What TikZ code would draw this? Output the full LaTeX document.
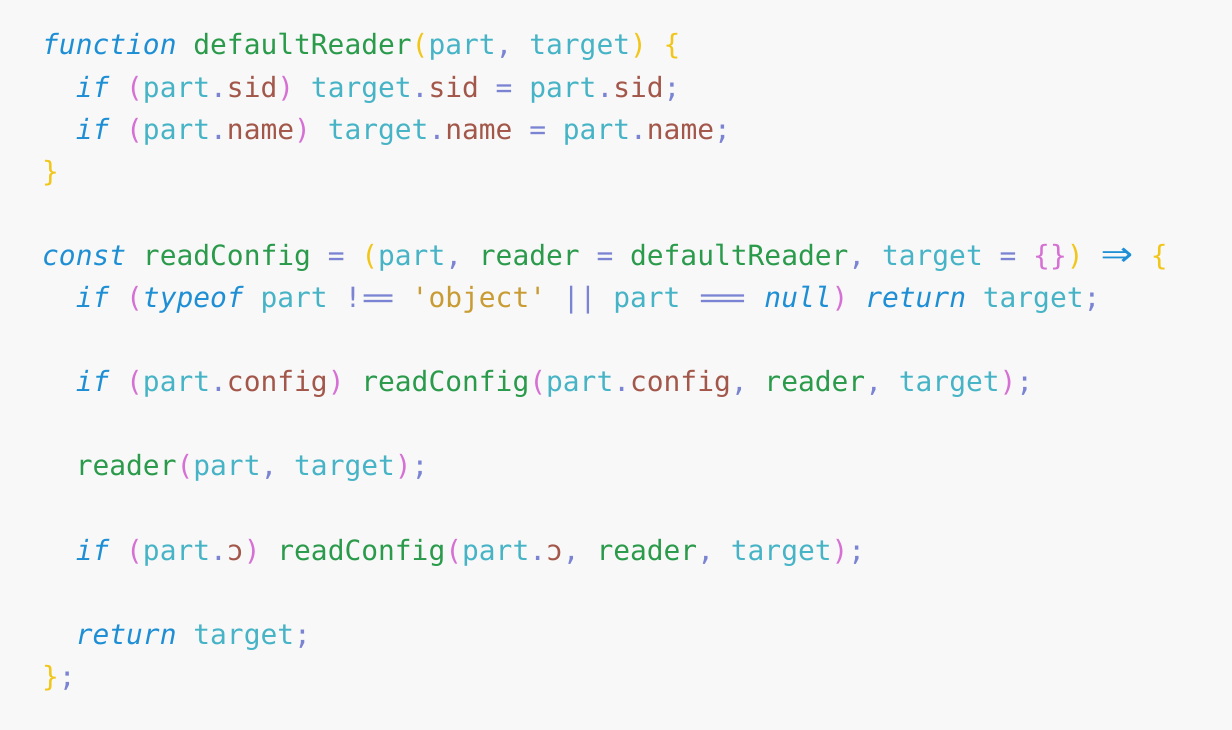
\documentclass[tikz,border=0pt]{standalone}
\usepackage{fontspec}
\usepackage{xcolor}
\usepackage{tikz}
\setmonofont[ItalicFont={DejaVu Sans Mono Oblique}]{DejaVu Sans Mono}
\frenchspacing
\definecolor{bggray}{HTML}{F8F8F8}
\definecolor{kwblue}{HTML}{1E8FD5}
\definecolor{fngreen}{HTML}{2A9A4B}
\definecolor{varteal}{HTML}{46B4C6}
\definecolor{propbrown}{HTML}{A3574A}
\definecolor{punlav}{HTML}{7A84D2}
\definecolor{paryellow}{HTML}{F2C619}
\definecolor{parpink}{HTML}{D670D4}
\definecolor{strochre}{HTML}{C99B33}
\newcommand{\ckw}[1]{\textcolor{kwblue}{\itshape #1}}
\newcommand{\cfn}[1]{\textcolor{fngreen}{#1}}
\newcommand{\cvar}[1]{\textcolor{varteal}{#1}}
\newcommand{\cprop}[1]{\textcolor{propbrown}{#1}}
\newcommand{\cpun}[1]{\textcolor{punlav}{#1}}
\newcommand{\cpa}[1]{\textcolor{paryellow}{#1}}
\newcommand{\cpb}[1]{\textcolor{parpink}{#1}}
\newcommand{\cstr}[1]{\textcolor{strochre}{#1}}
\newcommand{\wideeq}[1]{\scalebox{#1}[1]{=}}
\newcommand{\fatarrow}{\textcolor{kwblue}{\makebox[2\fontcharwd\font`a]{\raisebox{-0.08em}{\scalebox{1.9}[1.6]{⇒}}}}}
\tikzstyle{code} = [anchor=base west, inner sep=0pt, font=\ttfamily\fontsize{27.9bp}{42bp}\selectfont]

\begin{document}
\begin{tikzpicture}[x=1bp, y=1bp]
	\fill[bggray] (0,0) rectangle (1232,730);
	\node (line1) [code] at (42,675) {\ckw{function} \cfn{defaultReader}\cpa{(}\cvar{part}\cpun{,} \cvar{target}\cpa{)} \cpa{\{}};
	\node (line2) [code] at (75.6,632.9) {\ckw{if} \cpb{(}\cvar{part}\cpun{.}\cprop{sid}\cpb{)} \cvar{target}\cpun{.}\cprop{sid} \cpun{=} \cvar{part}\cpun{.}\cprop{sid}\cpun{;}};
	\node (line3) [code] at (75.6,590.8) {\ckw{if} \cpb{(}\cvar{part}\cpun{.}\cprop{name}\cpb{)} \cvar{target}\cpun{.}\cprop{name} \cpun{=} \cvar{part}\cpun{.}\cprop{name}\cpun{;}};
	\node (line4) [code] at (42,548.7) {\cpa{\}}};
	\node (line6) [code] at (42,464.5) {\ckw{const} \cfn{readConfig} \cpun{=} \cpa{(}\cvar{part}\cpun{,} \cfn{reader} \cpun{=} \cfn{defaultReader}\cpun{,} \cvar{target} \cpun{=} \cpb{\{\}}\cpa{)} \fatarrow{} \cpa{\{}};
	\node (line7) [code] at (75.6,422.4) {\ckw{if} \cpb{(}\ckw{typeof} \cvar{part} \cpun{!\wideeq{2}} \cstr{'object'} \cpun{||} \cvar{part} \cpun{\wideeq{3}} \ckw{null}\cpb{)} \ckw{return} \cvar{target}\cpun{;}};
	\node (line9) [code] at (75.6,338.2) {\ckw{if} \cpb{(}\cvar{part}\cpun{.}\cprop{config}\cpb{)} \cfn{readConfig}\cpb{(}\cvar{part}\cpun{.}\cprop{config}\cpun{,} \cfn{reader}\cpun{,} \cvar{target}\cpb{)}\cpun{;}};
	\node (line11) [code] at (75.6,254.0) {\cfn{reader}\cpb{(}\cvar{part}\cpun{,} \cvar{target}\cpb{)}\cpun{;}};
	\node (line13) [code] at (75.6,169.8) {\ckw{if} \cpb{(}\cvar{part}\cpun{.}\cprop{ɔ}\cpb{)} \cfn{readConfig}\cpb{(}\cvar{part}\cpun{.}\cprop{ɔ}\cpun{,} \cfn{reader}\cpun{,} \cvar{target}\cpb{)}\cpun{;}};
	\node (line15) [code] at (75.6,85.6) {\ckw{return} \cvar{target}\cpun{;}};
	\node (line16) [code] at (42,43.5) {\cpa{\}}\cpun{;}};
\end{tikzpicture}
\end{document}
